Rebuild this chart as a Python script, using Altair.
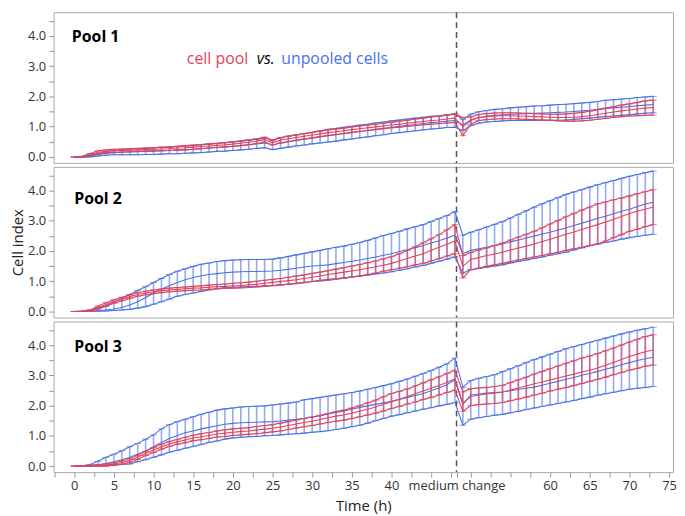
import altair as alt
import pandas as pd

hours = list(range(74))

# ---------------- Pool 1 ----------------
p1_blue_mean = [0.00,0.00,0.02,0.07,0.11,0.14,0.15,0.16,0.17,0.18,
                0.19,0.20,0.21,0.22,0.24,0.25,0.27,0.29,0.31,0.33,
                0.35,0.37,0.40,0.43,0.46,0.40,0.45,0.50,0.54,0.58,
                0.62,0.66,0.70,0.73,0.77,0.80,0.84,0.87,0.91,0.94,
                0.98,1.01,1.04,1.07,1.10,1.13,1.15,1.18,1.20,1.05,
                1.22,1.30,1.34,1.37,1.39,1.41,1.42,1.43,1.44,1.45,
                1.46,1.47,1.48,1.50,1.52,1.54,1.57,1.60,1.62,1.64,
                1.66,1.69,1.71,1.73]
p1_blue_lo = [0.00,-0.01,0.00,0.03,0.05,0.07,0.07,0.07,0.07,0.08,
              0.08,0.09,0.10,0.10,0.12,0.13,0.14,0.16,0.18,0.19,
              0.21,0.23,0.25,0.28,0.30,0.24,0.28,0.32,0.36,0.39,
              0.43,0.46,0.49,0.52,0.56,0.59,0.63,0.66,0.70,0.73,
              0.77,0.80,0.83,0.86,0.89,0.92,0.94,0.97,0.98,0.87,
              1.03,1.11,1.15,1.17,1.19,1.20,1.20,1.20,1.20,1.21,
              1.21,1.21,1.22,1.24,1.26,1.28,1.31,1.33,1.35,1.37,
              1.39,1.42,1.44,1.46]
p1_blue_hi = [0.00,0.01,0.04,0.11,0.17,0.21,0.23,0.25,0.27,0.28,
              0.30,0.31,0.32,0.34,0.36,0.37,0.40,0.42,0.44,0.47,
              0.49,0.51,0.55,0.58,0.62,0.56,0.62,0.68,0.72,0.77,
              0.81,0.86,0.91,0.94,0.98,1.01,1.05,1.08,1.12,1.15,
              1.19,1.22,1.25,1.28,1.31,1.34,1.36,1.39,1.42,1.23,
              1.41,1.49,1.53,1.57,1.59,1.62,1.64,1.66,1.68,1.69,
              1.71,1.73,1.74,1.76,1.78,1.80,1.83,1.87,1.89,1.91,
              1.93,1.96,1.98,2.00]
p1_red_mean = [0.00,0.01,0.08,0.15,0.18,0.20,0.21,0.22,0.23,0.24,
               0.25,0.26,0.27,0.29,0.30,0.32,0.34,0.36,0.38,0.40,
               0.42,0.45,0.48,0.52,0.57,0.47,0.55,0.60,0.64,0.68,
               0.72,0.76,0.80,0.83,0.86,0.90,0.93,0.96,0.99,1.02,
               1.05,1.08,1.11,1.14,1.17,1.20,1.22,1.25,1.28,1.00,
               1.20,1.30,1.33,1.35,1.36,1.36,1.35,1.34,1.33,1.32,
               1.31,1.30,1.30,1.31,1.33,1.36,1.40,1.44,1.48,1.52,
               1.55,1.58,1.61,1.63]
p1_red_lo = [0.00,0.00,0.05,0.10,0.13,0.15,0.16,0.17,0.18,0.19,
             0.20,0.20,0.21,0.23,0.23,0.25,0.27,0.29,0.31,0.33,
             0.34,0.37,0.40,0.44,0.49,0.39,0.46,0.51,0.55,0.59,
             0.63,0.67,0.71,0.74,0.77,0.81,0.84,0.87,0.90,0.93,
             0.96,0.98,1.01,1.03,1.06,1.08,1.10,1.12,1.14,0.70,
             1.08,1.20,1.23,1.25,1.26,1.26,1.25,1.24,1.23,1.22,
             1.21,1.19,1.18,1.18,1.19,1.21,1.24,1.27,1.30,1.33,
             1.35,1.36,1.37,1.38]
p1_red_hi = [0.00,0.02,0.11,0.20,0.23,0.25,0.26,0.27,0.28,0.29,
             0.30,0.32,0.33,0.35,0.37,0.39,0.41,0.43,0.45,0.47,
             0.50,0.53,0.56,0.60,0.65,0.55,0.64,0.69,0.73,0.77,
             0.81,0.85,0.89,0.92,0.95,0.99,1.02,1.05,1.08,1.11,
             1.14,1.18,1.21,1.25,1.28,1.32,1.34,1.38,1.42,1.30,
             1.32,1.40,1.43,1.45,1.46,1.46,1.45,1.44,1.43,1.42,
             1.41,1.41,1.42,1.44,1.47,1.51,1.56,1.61,1.66,1.71,
             1.75,1.80,1.85,1.88]

# ---------------- Pool 2 ----------------
p2_blue_mean = [0.00,0.00,0.02,0.03,0.05,0.08,0.13,0.21,0.32,0.46,
                0.60,0.74,0.85,0.96,1.05,1.12,1.18,1.22,1.25,1.28,
                1.30,1.31,1.32,1.32,1.33,1.34,1.36,1.39,1.43,1.47,
                1.50,1.52,1.54,1.58,1.62,1.66,1.70,1.75,1.80,1.86,
                1.91,1.98,2.04,2.11,2.18,2.26,2.34,2.43,2.52,1.91,
                2.02,2.07,2.12,2.18,2.23,2.30,2.36,2.43,2.49,2.56,
                2.62,2.69,2.76,2.84,2.92,3.00,3.08,3.15,3.23,3.31,
                3.38,3.47,3.55,3.61]
p2_blue_lo = [0.00,0.00,0.00,0.01,0.02,0.03,0.05,0.07,0.11,0.16,
              0.24,0.32,0.41,0.50,0.56,0.61,0.66,0.71,0.75,0.79,
              0.80,0.81,0.82,0.83,0.85,0.86,0.88,0.90,0.92,0.95,
              0.99,1.03,1.06,1.08,1.11,1.14,1.17,1.20,1.24,1.27,
              1.31,1.36,1.41,1.47,1.52,1.59,1.66,1.73,1.80,1.27,
              1.38,1.42,1.46,1.50,1.54,1.60,1.65,1.70,1.75,1.80,
              1.86,1.91,1.96,2.03,2.10,2.17,2.23,2.28,2.33,2.39,
              2.44,2.48,2.52,2.55]
p2_blue_hi = [0.00,0.01,0.05,0.11,0.18,0.32,0.42,0.56,0.69,0.82,
              0.96,1.09,1.22,1.33,1.41,1.49,1.56,1.60,1.65,1.68,
              1.70,1.71,1.72,1.72,1.72,1.73,1.77,1.82,1.87,1.92,
              1.97,2.02,2.07,2.12,2.16,2.22,2.28,2.35,2.43,2.51,
              2.58,2.65,2.73,2.80,2.87,2.97,3.07,3.17,3.30,2.52,
              2.62,2.70,2.79,2.88,2.97,3.09,3.21,3.33,3.45,3.56,
              3.66,3.77,3.87,3.95,4.03,4.11,4.19,4.26,4.33,4.40,
              4.47,4.53,4.59,4.64]
p2_red_mean = [0.00,0.00,0.03,0.13,0.23,0.33,0.41,0.49,0.56,0.61,
               0.65,0.68,0.71,0.73,0.75,0.77,0.78,0.80,0.82,0.83,
               0.85,0.86,0.88,0.90,0.93,0.96,0.99,1.02,1.05,1.09,
               1.13,1.17,1.22,1.26,1.30,1.34,1.38,1.43,1.48,1.53,
               1.59,1.67,1.75,1.83,1.91,2.02,2.12,2.22,2.33,1.49,
               1.72,1.78,1.85,1.90,1.96,2.03,2.10,2.16,2.23,2.31,
               2.39,2.47,2.55,2.63,2.71,2.79,2.87,2.96,3.05,3.14,
               3.24,3.31,3.38,3.45]
p2_red_lo = [0.00,0.00,0.01,0.08,0.17,0.27,0.35,0.43,0.50,0.55,
             0.59,0.62,0.65,0.67,0.69,0.70,0.71,0.73,0.75,0.76,
             0.77,0.78,0.79,0.81,0.83,0.85,0.88,0.90,0.93,0.96,
             0.99,1.01,1.03,1.07,1.10,1.14,1.17,1.22,1.27,1.33,
             1.38,1.43,1.48,1.54,1.59,1.67,1.75,1.83,1.91,1.11,
             1.38,1.43,1.49,1.54,1.59,1.64,1.70,1.75,1.80,1.85,
             1.91,1.96,2.02,2.07,2.12,2.18,2.23,2.33,2.44,2.54,
             2.65,2.72,2.80,2.87]
p2_red_hi = [0.00,0.01,0.05,0.18,0.29,0.39,0.47,0.55,0.62,0.67,
             0.71,0.74,0.77,0.79,0.81,0.83,0.85,0.87,0.89,0.91,
             0.93,0.95,0.97,1.00,1.03,1.06,1.09,1.13,1.17,1.21,
             1.26,1.30,1.35,1.40,1.45,1.50,1.55,1.61,1.67,1.74,
             1.81,1.91,2.02,2.14,2.27,2.40,2.54,2.70,2.87,1.85,
             1.95,2.03,2.10,2.18,2.26,2.36,2.46,2.55,2.65,2.77,
             2.89,3.01,3.13,3.24,3.35,3.45,3.56,3.62,3.69,3.75,
             3.82,3.89,3.96,4.03]

# ---------------- Pool 3 ----------------
p3_blue_mean = [0.00,0.00,0.01,0.04,0.08,0.14,0.21,0.29,0.39,0.50,
                0.64,0.78,0.91,1.01,1.10,1.16,1.23,1.28,1.33,1.38,
                1.41,1.43,1.44,1.45,1.46,1.47,1.49,1.52,1.55,1.58,
                1.62,1.66,1.72,1.77,1.82,1.88,1.94,1.99,2.04,2.09,
                2.14,2.20,2.27,2.33,2.40,2.49,2.58,2.70,2.85,2.03,
                2.35,2.38,2.41,2.43,2.45,2.49,2.53,2.57,2.61,2.67,
                2.74,2.80,2.87,2.93,3.00,3.06,3.13,3.20,3.27,3.35,
                3.42,3.49,3.55,3.60]
p3_blue_lo = [0.00,0.00,0.00,0.00,0.01,0.03,0.05,0.07,0.14,0.21,
              0.29,0.37,0.46,0.52,0.59,0.65,0.71,0.78,0.83,0.89,
              0.93,0.95,0.97,0.98,1.00,1.01,1.03,1.05,1.07,1.09,
              1.12,1.14,1.17,1.21,1.25,1.30,1.35,1.42,1.50,1.57,
              1.65,1.70,1.76,1.82,1.88,1.93,1.99,2.04,2.10,1.35,
              1.55,1.60,1.64,1.68,1.71,1.76,1.81,1.87,1.92,1.97,
              2.02,2.07,2.12,2.17,2.23,2.28,2.34,2.39,2.44,2.49,
              2.54,2.57,2.60,2.63]
p3_blue_hi = [0.00,0.01,0.05,0.16,0.29,0.39,0.51,0.64,0.75,0.89,
              1.03,1.23,1.37,1.47,1.55,1.63,1.71,1.78,1.85,1.89,
              1.92,1.95,1.97,1.98,1.99,2.02,2.05,2.08,2.12,2.19,
              2.23,2.27,2.31,2.35,2.39,2.43,2.48,2.54,2.60,2.66,
              2.72,2.80,2.88,2.97,3.06,3.16,3.27,3.38,3.57,2.61,
              2.83,2.90,2.96,3.02,3.12,3.22,3.32,3.42,3.52,3.61,
              3.70,3.79,3.88,3.95,4.02,4.09,4.16,4.23,4.30,4.37,
              4.43,4.49,4.54,4.59]
p3_red_mean = [0.00,0.00,0.00,0.01,0.03,0.07,0.12,0.18,0.29,0.42,
               0.53,0.64,0.73,0.80,0.86,0.93,0.97,1.01,1.06,1.09,
               1.12,1.14,1.16,1.19,1.22,1.25,1.29,1.34,1.39,1.44,
               1.48,1.54,1.60,1.65,1.69,1.75,1.81,1.88,1.95,2.04,
               2.13,2.21,2.30,2.39,2.48,2.57,2.66,2.77,2.88,2.08,
               2.30,2.34,2.38,2.41,2.45,2.51,2.58,2.65,2.72,2.78,
               2.85,2.91,2.98,3.04,3.11,3.17,3.24,3.33,3.42,3.52,
               3.62,3.70,3.78,3.84]
p3_red_lo = [0.00,0.00,0.00,0.00,0.00,0.03,0.07,0.12,0.22,0.35,
             0.45,0.56,0.65,0.72,0.77,0.84,0.87,0.91,0.96,0.98,
             1.01,1.03,1.05,1.07,1.10,1.13,1.16,1.21,1.26,1.30,
             1.34,1.39,1.44,1.48,1.52,1.57,1.63,1.69,1.75,1.82,
             1.90,1.97,2.05,2.12,2.20,2.27,2.35,2.43,2.51,1.81,
             2.00,2.03,2.05,2.07,2.10,2.16,2.22,2.28,2.35,2.41,
             2.48,2.54,2.60,2.66,2.73,2.80,2.87,2.94,3.02,3.09,
             3.17,3.23,3.30,3.34]
p3_red_hi = [0.00,0.01,0.02,0.05,0.07,0.11,0.17,0.24,0.36,0.49,
             0.61,0.72,0.81,0.88,0.95,1.02,1.07,1.11,1.16,1.20,
             1.23,1.25,1.27,1.31,1.34,1.37,1.42,1.47,1.52,1.57,
             1.62,1.68,1.74,1.80,1.85,1.92,2.00,2.09,2.18,2.29,
             2.40,2.47,2.55,2.65,2.75,2.85,2.95,3.06,3.17,2.45,
             2.56,2.58,2.60,2.63,2.67,2.76,2.85,2.94,3.04,3.13,
             3.22,3.31,3.40,3.48,3.57,3.64,3.72,3.81,3.90,4.00,
             4.10,4.19,4.28,4.34]

# ---------------- labels / ticks ----------------
POOL_NAMES = ["Pool 1", "Pool 2", "Pool 3"]
POOL_LABEL_T = [-0.3, 0.0, 0.0]
POOL_LABEL_V = [3.96, 3.72, 3.95]
SERIES_NAMES = ["unpooled cells", "cell pool"]
LEGEND_TEXT = ["cell pool", "vs.", "unpooled cells"]
LEGEND_T = [14.2, 23.0, 26.1]
LEGEND_V = 3.23
MEDIUM_CHANGE = 48.2
X_TICKS = [-2.5, 0, 2.5, 5, 7.5, 10, 12.5, 15, 17.5, 20, 22.5, 25, 27.5, 30,
           32.5, 35, 37.5, 40, 42.5, 45, 47.5, MEDIUM_CHANGE, 50, 52.5, 55,
           57.5, 60, 62.5, 65, 67.5, 70, 72.5, 75]
Y_TICKS = [0, 0.5, 1, 1.5, 2, 2.5, 3, 3.5, 4, 4.5]

BLUE = "#4a72e6"
RED = "#e0435c"
FONT = "Open Sans"

data = {
    "Pool 1": {"unpooled cells": (p1_blue_mean, p1_blue_lo, p1_blue_hi),
               "cell pool": (p1_red_mean, p1_red_lo, p1_red_hi)},
    "Pool 2": {"unpooled cells": (p2_blue_mean, p2_blue_lo, p2_blue_hi),
               "cell pool": (p2_red_mean, p2_red_lo, p2_red_hi)},
    "Pool 3": {"unpooled cells": (p3_blue_mean, p3_blue_lo, p3_blue_hi),
               "cell pool": (p3_red_mean, p3_red_lo, p3_red_hi)},
}

W = 625
H = 152
xscale = alt.Scale(domain=[-2.6, 75.5], nice=False, zero=False)
yscale = alt.Scale(domain=[-0.2, 4.78], nice=False, zero=False)


def x_axis(bottom):
    if not bottom:
        return None
    return alt.Axis(
        values=X_TICKS, format=".0f", labelOverlap=False, labelFlush=False,
        labelExpr=("datum.value == 48.2 ? 'medium change' : "
                   "((datum.value % 5 == 0 && datum.value >= 0 && "
                   "(datum.value < 45 || datum.value > 55)) ? datum.label : '')"),
        tickSize=5, tickColor="#999999", domain=False, grid=False,
        labelFontSize=13, labelColor="#333333", labelFont=FONT, labelPadding=3,
        title="Time (h)", titleFontSize=15, titleFontWeight="normal",
        titleColor="#222222", titleFont=FONT, titlePadding=6,
    )


def y_axis(title):
    kw = dict(
        values=Y_TICKS, labelExpr="datum.value % 1 == 0 ? format(datum.value, '.1f') : ''",
        tickSize=5, tickColor="#999999", domain=False, grid=False,
        labelFontSize=13, labelColor="#333333", labelFont=FONT, labelPadding=3,
    )
    if title:
        kw.update(title=title, titleFontSize=15, titleFontWeight="normal",
                  titleColor="#222222", titleFont=FONT, titlePadding=2)
    else:
        kw.update(title=None)
    return alt.Axis(**kw)


def panel(i):
    name = POOL_NAMES[i]
    bottom = i == 2
    ytitle = "Cell index" if i == 1 else None
    X = alt.X("t:Q", scale=xscale, axis=x_axis(bottom),
              title="Time (h)" if bottom else None)

    def Y(field):
        return alt.Y(field + ":Q", scale=yscale, axis=y_axis(ytitle), title=ytitle)

    layers = []
    vline = alt.Chart(pd.DataFrame({"t": [MEDIUM_CHANGE]})).mark_rule(
        color="#555555", strokeWidth=1.5, strokeDash=[6, 4]).encode(x=X)
    layers.append(vline)

    for series, color in zip(SERIES_NAMES, [BLUE, RED]):
        mean, lo, hi = data[name][series]
        df = pd.DataFrame({"t": hours, "mean": mean, "lo": lo, "hi": hi})
        base = alt.Chart(df)
        layers.append(base.mark_rule(color=color, opacity=0.6, strokeWidth=1.6)
                      .encode(x=X, y=Y("lo"), y2="hi:Q"))
        layers.append(base.mark_line(color=color, strokeWidth=1.1, interpolate="linear")
                      .encode(x=X, y=Y("hi")))
        layers.append(base.mark_line(color=color, strokeWidth=1.1, interpolate="linear")
                      .encode(x=X, y=Y("lo")))
        layers.append(base.mark_tick(color=color, orient="horizontal", size=7, thickness=1)
                      .encode(x=X, y=Y("hi")))
        layers.append(base.mark_tick(color=color, orient="horizontal", size=7, thickness=1)
                      .encode(x=X, y=Y("lo")))
        layers.append(base.mark_line(color=color, strokeWidth=1.1, interpolate="linear")
                      .encode(x=X, y=Y("mean")))

    lab = pd.DataFrame({"t": [POOL_LABEL_T[i]], "v": [POOL_LABEL_V[i]], "label": [name]})
    layers.append(alt.Chart(lab).mark_text(
        align="left", baseline="middle", fontWeight="bold", fontSize=16,
        font=FONT, color="#000000").encode(x=X, y=Y("v"), text="label:N"))

    if i == 0:
        styles = [(RED, "normal"), ("#000000", "italic"), (BLUE, "normal")]
        for txt, tt, (c, st) in zip(LEGEND_TEXT, LEGEND_T, styles):
            ld = pd.DataFrame({"t": [tt], "v": [LEGEND_V], "label": [txt]})
            layers.append(alt.Chart(ld).mark_text(
                align="left", baseline="middle", fontSize=16, font=FONT,
                color=c, fontStyle=st).encode(x=X, y=Y("v"), text="label:N"))

    return alt.layer(*layers).properties(width=W, height=H)


chart = alt.vconcat(panel(0), panel(1), panel(2), spacing=0).properties(
    padding={"left": 2, "top": 0, "right": 0, "bottom": 0}
).configure_view(stroke="#aaaaaa", strokeWidth=1)

chart.save("out.html", embed_options={"renderer": "svg", "actions": False})
